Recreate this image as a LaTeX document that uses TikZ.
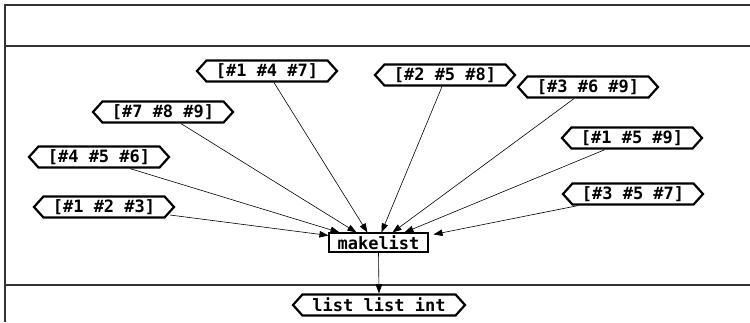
\documentclass[tikz,border=0pt]{standalone}
\usepackage{fontspec}
\setmonofont{DejaVu Sans Mono}
\usetikzlibrary{shapes.symbols, arrows.meta, calc}

\begin{document}
\begin{tikzpicture}[x=1pt, y=-1pt,
  font=\ttfamily\bfseries\fontsize{17}{19}\selectfont,
  tag/.style={signal, signal to=west and east, signal pointer angle=96,
    draw, line width=2.2pt, minimum width=140pt, minimum height=21pt,
    inner xsep=1pt, inner ysep=0pt},
  fn/.style={draw, line width=1.1pt, minimum width=99pt, minimum height=19pt, inner sep=0pt},
  flow/.style={-{Triangle[length=9pt,width=6.5pt]}, line width=0.6pt},
  frame/.style={line width=1.4pt, black!80}]
\useasboundingbox (0,0) rectangle (750,322);
% ---------- frame and separators ----------
\draw[frame] (750,5) -- (5,5) -- (5,322);
\draw[frame] (5,46) -- (750,46);
\draw[frame] (5,285) -- (750,285);
% ---------- input tuples ----------
\node[tag] (t147) at (267,71)  {[\#1 \#4 \#7]};
\node[tag] (t789) at (163,112) {[\#7 \#8 \#9]};
\node[tag] (t456) at (99,157)  {[\#4 \#5 \#6]};
\node[tag] (t123) at (104,207) {[\#1 \#2 \#3]};
\node[tag] (t258) at (445,75)  {[\#2 \#5 \#8]};
\node[tag] (t369) at (588,87)  {[\#3 \#6 \#9]};
\node[tag] (t159) at (632,138) {[\#1 \#5 \#9]};
\node[tag] (t357) at (633,194) {[\#3 \#5 \#7]};
% ---------- function and result ----------
\node[fn] (mk) at (378.5,242.5) {makelist};
\node[tag, minimum width=172pt] (lli) at (379,305) {list list int};
% ---------- connectors ----------
\draw[flow] ($(t123.center)+(66,8)$) -- ($(mk.north west)+(0,3)$);
\draw[flow] ($(t456.south)+(31,0)$)  -- ($(mk.north west)+(11,0)$);
\draw[flow] ($(t789.south)+(18,0)$)  -- ($(mk.north west)+(28,0)$);
\draw[flow] ($(t147.south)+(7,0)$)   -- ($(mk.north west)+(39,0)$);
\draw[flow] ($(t258.south)+(-3,0)$)  -- ($(mk.north west)+(53,0)$);
\draw[flow] ($(t369.south)+(-14,0)$) -- ($(mk.north west)+(64,0)$);
\draw[flow] ($(t159.south)+(-27,0)$) -- ($(mk.north west)+(76,0)$);
\draw[flow] ($(t357.south)+(-55,0)$) -- ($(mk.north east)+(5,2)$);
\draw[flow] (mk.south) -- (lli.north);
\end{tikzpicture}
\end{document}
